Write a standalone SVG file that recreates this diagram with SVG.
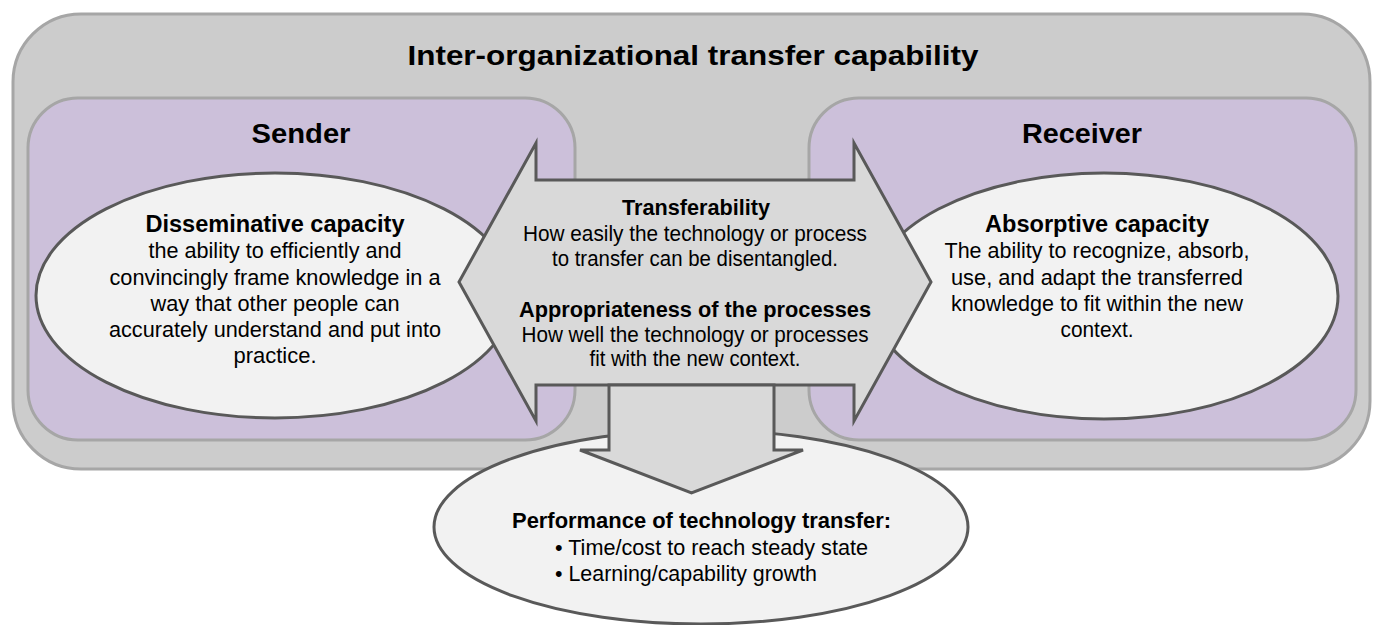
<svg xmlns="http://www.w3.org/2000/svg" width="1373" height="625" viewBox="0 0 1373 625">
<defs>
<style>
.frame{fill:#cccccc;stroke:#a6a6a6;stroke-width:3}
.party{fill:#ccc0da;stroke:#a6a6a6;stroke-width:3}
.oval{fill:#f2f2f2;stroke:#595959;stroke-width:3}
.arrow{fill:#d9d9d9;stroke:#595959;stroke-width:3;stroke-linejoin:miter}
text{font-family:"Liberation Sans",Arial,sans-serif;fill:#000}
.h1{font-size:28.5px;font-weight:bold;text-anchor:middle}
.h2{font-size:28px;font-weight:bold;text-anchor:middle}
.hb{font-size:23px;font-weight:bold;text-anchor:middle}
.hc{font-size:21.5px;font-weight:bold;text-anchor:middle}
.b{font-size:21.5px;text-anchor:middle}
.bl{font-size:21.5px}
.hl{font-size:21.5px;font-weight:bold}
</style>
</defs>
<g id="frame">
<rect class="frame" x="13" y="14" width="1357" height="455" rx="68" ry="68"/>
<text class="h1" x="693" y="65" textLength="571" lengthAdjust="spacingAndGlyphs">Inter-organizational transfer capability</text>
</g>
<g id="sender">
<rect class="party" x="28" y="98" width="547" height="342" rx="50" ry="50"/>
<text class="h2" x="301" y="143" textLength="99" lengthAdjust="spacingAndGlyphs">Sender</text>
</g>
<g id="receiver">
<rect class="party" x="809" y="98" width="547" height="342" rx="50" ry="50"/>
<text class="h2" x="1082" y="143" textLength="120" lengthAdjust="spacingAndGlyphs">Receiver</text>
</g>
<g id="disseminative">
<ellipse class="oval" cx="275" cy="295.5" rx="239" ry="122.5"/>
<text class="hb" x="275" y="232" textLength="259" lengthAdjust="spacingAndGlyphs">Disseminative capacity</text>
<text class="b" x="275" y="258" textLength="253" lengthAdjust="spacingAndGlyphs">the ability to efficiently and</text>
<text class="b" x="275" y="284.5" textLength="331" lengthAdjust="spacingAndGlyphs">convincingly frame knowledge in a</text>
<text class="b" x="275" y="311" textLength="249" lengthAdjust="spacingAndGlyphs">way that other people can</text>
<text class="b" x="275" y="337" textLength="332" lengthAdjust="spacingAndGlyphs">accurately understand and put into</text>
<text class="b" x="275" y="363" textLength="83" lengthAdjust="spacingAndGlyphs">practice.</text>
</g>
<g id="absorptive">
<ellipse class="oval" cx="1104" cy="296" rx="234" ry="123"/>
<text class="hb" x="1097" y="232" textLength="224" lengthAdjust="spacingAndGlyphs">Absorptive capacity</text>
<text class="b" x="1097" y="258" textLength="305" lengthAdjust="spacingAndGlyphs">The ability to recognize, absorb,</text>
<text class="b" x="1097" y="284.5" textLength="292" lengthAdjust="spacingAndGlyphs">use, and adapt the transferred</text>
<text class="b" x="1097" y="311" textLength="292" lengthAdjust="spacingAndGlyphs">knowledge to fit within the new</text>
<text class="b" x="1097" y="337" textLength="73" lengthAdjust="spacingAndGlyphs">context.</text>
</g>
<g id="performance">
<ellipse class="oval" cx="701" cy="527" rx="267" ry="97"/>
<text class="hl" x="512" y="528" textLength="379" lengthAdjust="spacingAndGlyphs">Performance of technology transfer:</text>
<text class="bl" x="555" y="555" textLength="313" lengthAdjust="spacingAndGlyphs">• Time/cost to reach steady state</text>
<text class="bl" x="555" y="581" textLength="262" lengthAdjust="spacingAndGlyphs">• Learning/capability growth</text>
</g>
<g id="transferability">
<polygon class="arrow" points="459,282 536,143 536,180 854,180 854,143 931,282 854,421 854,385 536,385 536,421"/>
<text class="hc" x="696" y="215" textLength="148" lengthAdjust="spacingAndGlyphs">Transferability</text>
<text class="b" x="695" y="241" textLength="344" lengthAdjust="spacingAndGlyphs">How easily the technology or process</text>
<text class="b" x="695" y="266" textLength="286" lengthAdjust="spacingAndGlyphs">to transfer can be disentangled.</text>
<text class="hc" x="695" y="317" textLength="352" lengthAdjust="spacingAndGlyphs">Appropriateness of the processes</text>
<text class="b" x="695" y="342" textLength="347" lengthAdjust="spacingAndGlyphs">How well the technology or processes</text>
<text class="b" x="695" y="366" textLength="211" lengthAdjust="spacingAndGlyphs">fit with the new context.</text>
</g>
<g id="connectors">
<polygon class="arrow" points="609,385 774,385 774,450 803,450 691.5,493 580,450 609,450"/>
</g>
</svg>
